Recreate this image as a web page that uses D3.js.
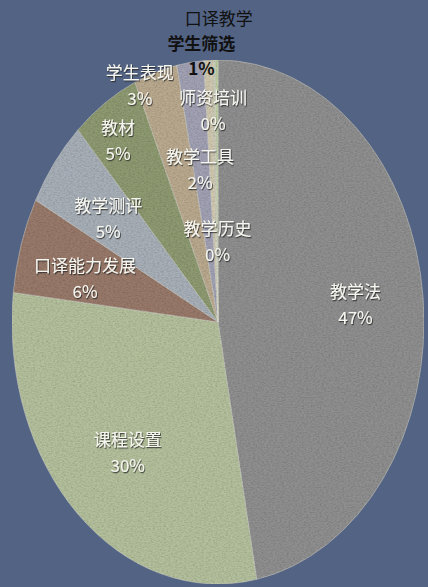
<!DOCTYPE html>
<meta charset="utf-8">
<style>
  html, body {
    margin: 0;
    padding: 0;
    background: #536384;
  }
  svg {
    display: block;
  }
  .lbl {
    font-family: "Noto Sans CJK SC", "Noto Sans", sans-serif;
    font-size: 17px;
    text-anchor: middle;
    dominant-baseline: middle;
  }
</style>
<div id="chart"></div>
<script src="https://cdnjs.cloudflare.com/ajax/libs/d3/7.8.5/d3.min.js"></script>
<script>
// slices, clockwise from 12 o'clock
var categories = ["教学法", "课程设置", "口译能力发展", "教学测评", "教材", "学生表现",
                  "教学工具", "学生筛选", "口译教学", "师资培训", "教学历史"];
var values = [47.0, 29.8, 5.9, 5.4, 5.3, 3.4, 2.1, 0.6, 0.2, 0.1, 0.2];
var colors = ["#8f8f8f", "#b4c09c", "#98796a", "#a7afb7", "#8e9a71", "#b9a98e",
              "#a1a1b4", "#cfc7ae", "#c9c3a8", "#c2d0a8", "#b9cc9c"];

var W = 428, H = 587;
var cx = 218, cy = 322, rx = 206, ry = 262;

// label placement: radius fraction + angle nudge (deg), outside ones drawn dark
var labelLayout = {
  "教学法": {r: 0.67, da: 0.4},
  "课程设置": {r: 0.67, da: -2},
  "口译能力发展": {r: 0.665, da: -3.2},
  "教学测评": {r: 0.66, da: -1.3},
  "教材": {r: 0.84, da: -2},
  "学生表现": {r: 0.974, da: -5.3},
  "教学工具": {r: 0.58, da: -0.9},
  "学生筛选": {r: 1.01, da: -1.7, dark: true, bold: true, gap: 25},
  "口译教学": {r: 1.153, da: 1.6, dark: true, noPct: true},
  "师资培训": {r: 0.80, da: -0.8},
  "教学历史": {r: 0.30, da: 0}
};

var svg = d3.select("#chart").append("svg")
  .attr("width", W)
  .attr("height", H);

var defs = svg.append("defs");
var f = defs.append("filter").attr("id", "tex")
  .attr("x", 0).attr("y", 0).attr("width", 1).attr("height", 1);
f.append("feTurbulence")
  .attr("type", "fractalNoise")
  .attr("baseFrequency", "0.45 0.8")
  .attr("numOctaves", 3)
  .attr("seed", 4)
  .attr("result", "n");
f.append("feColorMatrix")
  .attr("in", "n")
  .attr("type", "matrix")
  .attr("values", "0 0 0 0 0  0 0 0 0 0  0 0 0 0 0  0.55 0 0 0 -0.2")
  .attr("result", "shade");
f.append("feComposite")
  .attr("in", "shade").attr("in2", "SourceAlpha")
  .attr("operator", "in").attr("result", "s2");
var m = f.append("feMerge");
m.append("feMergeNode").attr("in", "SourceGraphic");
m.append("feMergeNode").attr("in", "s2");

var shadow = defs.append("filter").attr("id", "shadow")
  .attr("x", "-20%").attr("y", "-30%").attr("width", "140%").attr("height", "160%");
shadow.append("feDropShadow")
  .attr("dx", 0.8).attr("dy", 1.2)
  .attr("stdDeviation", 0.5)
  .attr("flood-color", "#222")
  .attr("flood-opacity", 0.8);

var pie = d3.pie().sort(null).value(function(d) { return d; });
var arcs = pie(values);
var total = d3.sum(values);

var arc = d3.arc().innerRadius(0).outerRadius(rx);

var outer = svg.append("g").attr("filter", "url(#tex)");
var g = outer.append("g")
  .attr("transform", "translate(" + cx + "," + cy + ") scale(1," + (ry / rx) + ")");

g.selectAll("path")
  .data(arcs)
  .enter()
    .append("path")
    .attr("d", arc)
    .attr("fill", function(d, i) { return colors[i]; })
    .attr("stroke", "#dcdcd2")
    .attr("stroke-opacity", 0.55)
    .attr("stroke-width", 0.8)
    .attr("vector-effect", "non-scaling-stroke");

var labels = svg.append("g");

arcs.forEach(function(d, i) {
  var name = categories[i];
  var lay = labelLayout[name];
  var a = (d.startAngle + d.endAngle) / 2 + lay.da * Math.PI / 180;
  var x = cx + rx * lay.r * Math.sin(a);
  var y = cy - ry * lay.r * Math.cos(a);
  var pct = Math.round(values[i] / total * 100) + "%";
  var lines = lay.noPct ? [name] : [name, pct];
  var gap = lay.gap || 26;
  var t = labels.append("g")
    .attr("filter", lay.dark ? null : "url(#shadow)");
  lines.forEach(function(s, k) {
    t.append("text")
      .attr("class", "lbl")
      .attr("x", x)
      .attr("y", y + (k - (lines.length - 1) / 2) * gap)
      .attr("fill", lay.dark ? "#111" : "#f6f6f0")
      .attr("font-weight", lay.bold ? "bold" : "normal")
      .text(s);
  });
});
</script>
